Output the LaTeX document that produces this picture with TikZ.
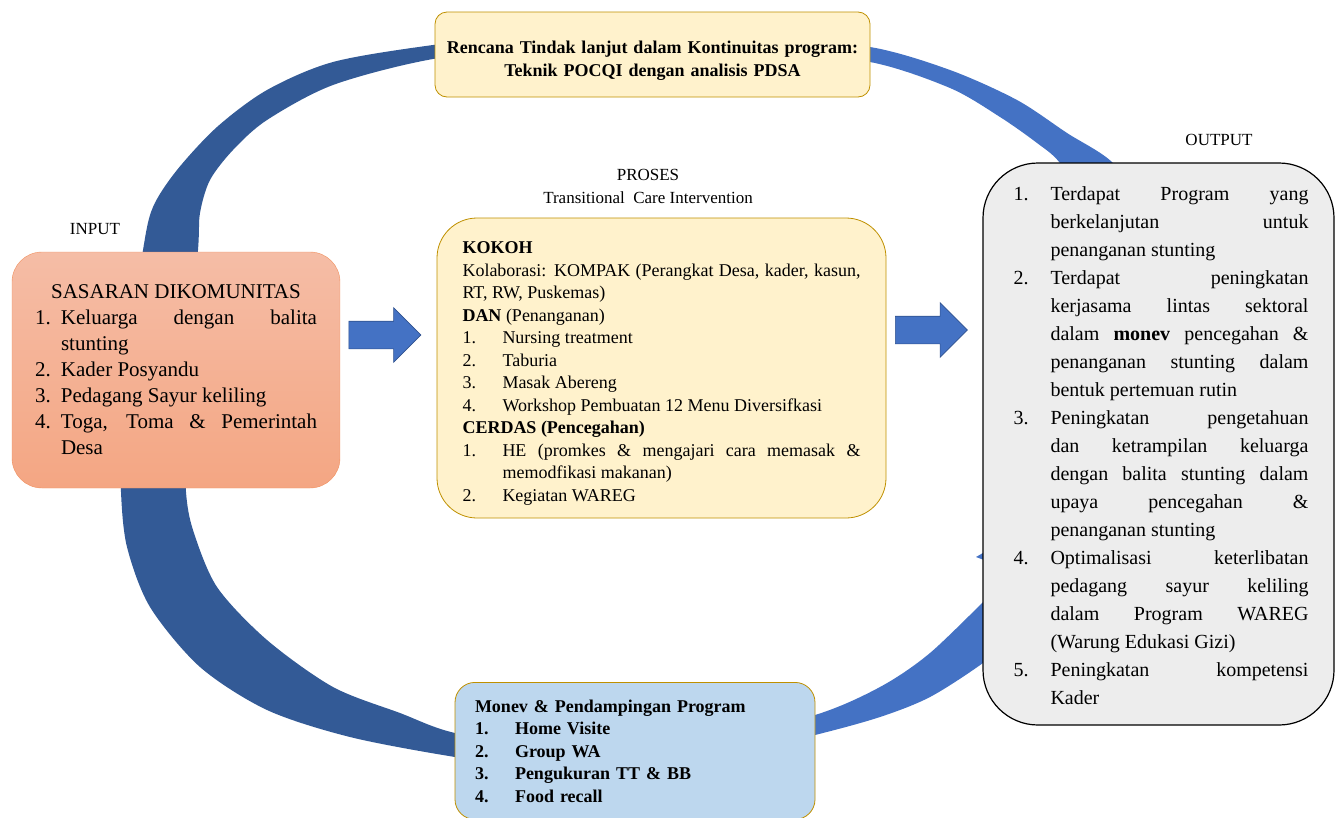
\documentclass[tikz,border=0pt]{standalone}
\usepackage{fontspec}
\setmainfont{Liberation Serif}
\usetikzlibrary{arrows,calc,shapes.arrows}

\definecolor{ringdark}{HTML}{335A96}
\definecolor{ringlight}{HTML}{4472C4}
\definecolor{arrowedge}{HTML}{2F528F}
\definecolor{goldedge}{HTML}{BF9000}
\definecolor{creamfill}{HTML}{FFF2CC}
\definecolor{bluefill}{HTML}{BDD7EE}
\definecolor{greyfill}{HTML}{EDEDED}
\definecolor{salmontop}{HTML}{F5BDA6}
\definecolor{salmonbot}{HTML}{F4A683}
\definecolor{salmonedge}{HTML}{F0905F}

% numbered line with hanging indent
\newcommand{\numitem}[3]{\par\noindent\hangindent=#1\hangafter=1\makebox[#1][l]{#2}#3\par}

\tikzset{
%Define style for the labels over the boxes
lbl/.style={font=\fontsize{17}{23}\selectfont, inner sep=0pt},
%Define style for the boxes
inbox/.style={draw=salmonedge, top color=salmontop, bottom color=salmonbot, rounded corners=30pt,
  text width=282pt, inner xsep=23pt, minimum height=236pt, align=justify,
  font=\fontsize{21}{26}\selectfont},
prosbox/.style={draw=goldedge, fill=creamfill, rounded corners=40pt, line width=0.8pt,
  text width=398pt, inner xsep=25.5pt, minimum height=300pt, align=justify,
  font=\fontsize{18}{22.5}\selectfont},
outbox/.style={draw=black, fill=greyfill, rounded corners=55pt, line width=1.2pt,
  text width=300pt, inner xsep=25.5pt, minimum height=562pt, align=justify,
  font=\fontsize{20}{28}\selectfont},
planbox/.style={draw=goldedge, fill=creamfill, rounded corners=12pt, line width=0.8pt,
  text width=420pt, inner xsep=7.5pt, minimum height=85pt, align=center,
  font=\bfseries\fontsize{18}{23}\selectfont},
monbox/.style={draw=goldedge, fill=bluefill, rounded corners=20pt, line width=0.8pt,
  text width=320pt, inner xsep=20pt, minimum height=137pt, align=left,
  font=\bfseries\fontsize{18}{22.5}\selectfont},
%Define style for the block arrows
blockarrow/.style={single arrow, draw=arrowedge, fill=ringlight, line width=0.6pt,
  minimum height=72pt, inner xsep=0pt, inner ysep=13.5pt, single arrow head extend=13.5pt},
}

\begin{document}
\begin{tikzpicture}[x=1pt,y=-1pt]
    \useasboundingbox (0,0) rectangle (1335,817);

    % cycle band, left part
    \fill[ringdark] plot[smooth] coordinates {(560,31) (433,45) (333,62) (267,90) (217,127)
        (177,170) (153,207) (143,250) (126,370) (122,440) (121,492) (127,547) (150,607)
        (200,667) (267,710) (350,737) (455,757) (560,771)}
      -- plot[smooth] coordinates {(560,750) (455,733) (400,713) (333,687) (267,640)
        (217,587) (193,530) (186,492) (186,440) (188,370) (198,250) (200,213) (210,180)
        (233,150) (267,120) (333,85) (433,59) (560,45)} -- cycle;

    % cycle band, right part (top)
    \fill[ringlight] plot[smooth] coordinates {(760,39) (870,47) (950,70) (1017,100)
        (1067,133) (1113,163) (1150,215)}
      -- plot[smooth] coordinates {(1095,215) (1060,163) (1037,143) (1000,117) (950,88)
        (870,62) (760,53)} -- cycle;

    % cycle band, right part (bottom) with its head
    \fill[ringlight] plot[smooth] coordinates {(700,762) (815,735) (880,717) (930,697)
        (983,663) (1030,625)}
      -- (1065,655) -- (1075,500) -- (976,557) -- (1000,566)
      -- plot[smooth] coordinates {(990,595) (930,653) (880,687) (815,715) (700,742)}
      -- cycle;

    % labels
    \node[lbl] (input) at (95,229) {INPUT};
    \node[lbl] (output) at (1219,140) {OUTPUT};
    \node[lbl, align=center] (proses) at (648,186) {PROSES\\Transitional~~Care Intervention};

    % top box
    \node[planbox] (plan) at (652.5,54.5)
      {\rule{0pt}{24pt}Rencana Tindak lanjut dalam Kontinuitas program:\\Teknik POCQI dengan analisis PDSA};

    % input box
    \node[inbox] (sasaran) at (176,370) {%
      {\centering SASARAN DIKOMUNITAS\par}
      \numitem{26pt}{1.}{Keluarga dengan balita\linebreak stunting}
      \numitem{26pt}{2.}{Kader Posyandu}
      \numitem{26pt}{3.}{Pedagang Sayur keliling}
      \numitem{26pt}{4.}{Toga, Toma \& Pemerintah\linebreak Desa}};

    % process box
    \node[prosbox] (intervensi) at (661.5,368) {%
      \noindent\rule{0pt}{23pt}\textbf{KOKOH}\par
      \noindent Kolaborasi: KOMPAK (Perangkat Desa, kader, kasun,\linebreak RT, RW, Puskemas)\par
      \noindent\textbf{DAN} (Penanganan)\par
      \numitem{40pt}{1.}{Nursing treatment}
      \numitem{40pt}{2.}{Taburia}
      \numitem{40pt}{3.}{Masak Abereng}
      \numitem{40pt}{4.}{Workshop Pembuatan 12 Menu Diversifkasi}
      \noindent\textbf{CERDAS (Pencegahan)}\par
      \numitem{40pt}{1.}{HE (promkes \& mengajari cara memasak \&\linebreak memodfikasi makanan)}
      \numitem{40pt}{2.}{Kegiatan WAREG}};

    % output box
    \node[outbox] (hasil) at (1158.5,444) {%
      \leftskip=5pt
      \numitem{37pt}{1.}{Terdapat Program yang\linebreak berkelanjutan untuk\linebreak penanganan stunting}
      \numitem{37pt}{2.}{Terdapat peningkatan\linebreak kerjasama lintas sektoral\linebreak dalam \textbf{monev} pencegahan \&\linebreak penanganan stunting dalam\linebreak bentuk pertemuan rutin}
      \numitem{37pt}{3.}{Peningkatan pengetahuan\linebreak dan ketrampilan keluarga\linebreak dengan balita stunting dalam\linebreak upaya pencegahan \&\linebreak penanganan stunting}
      \numitem{37pt}{4.}{Optimalisasi keterlibatan\linebreak pedagang sayur keliling\linebreak dalam Program WAREG\linebreak (Warung Edukasi Gizi)}
      \numitem{37pt}{5.}{Peningkatan kompetensi\linebreak Kader\rule[-12pt]{0pt}{12pt}}};

    % monitoring box
    \node[monbox, anchor=north] (monev) at (635,682) {%
      Monev \& Pendampingan Program\par
      \numitem{40pt}{1.}{Home Visite}
      \numitem{40pt}{2.}{Group WA}
      \numitem{40pt}{3.}{Pengukuran TT \& BB}
      \numitem{40pt}{4.}{Food recall}};

    % block arrows
    \node[blockarrow] (toproses) at (378,335) {};
    \node[blockarrow] (tooutput) at (924.5,330) {};
\end{tikzpicture}
\end{document}
